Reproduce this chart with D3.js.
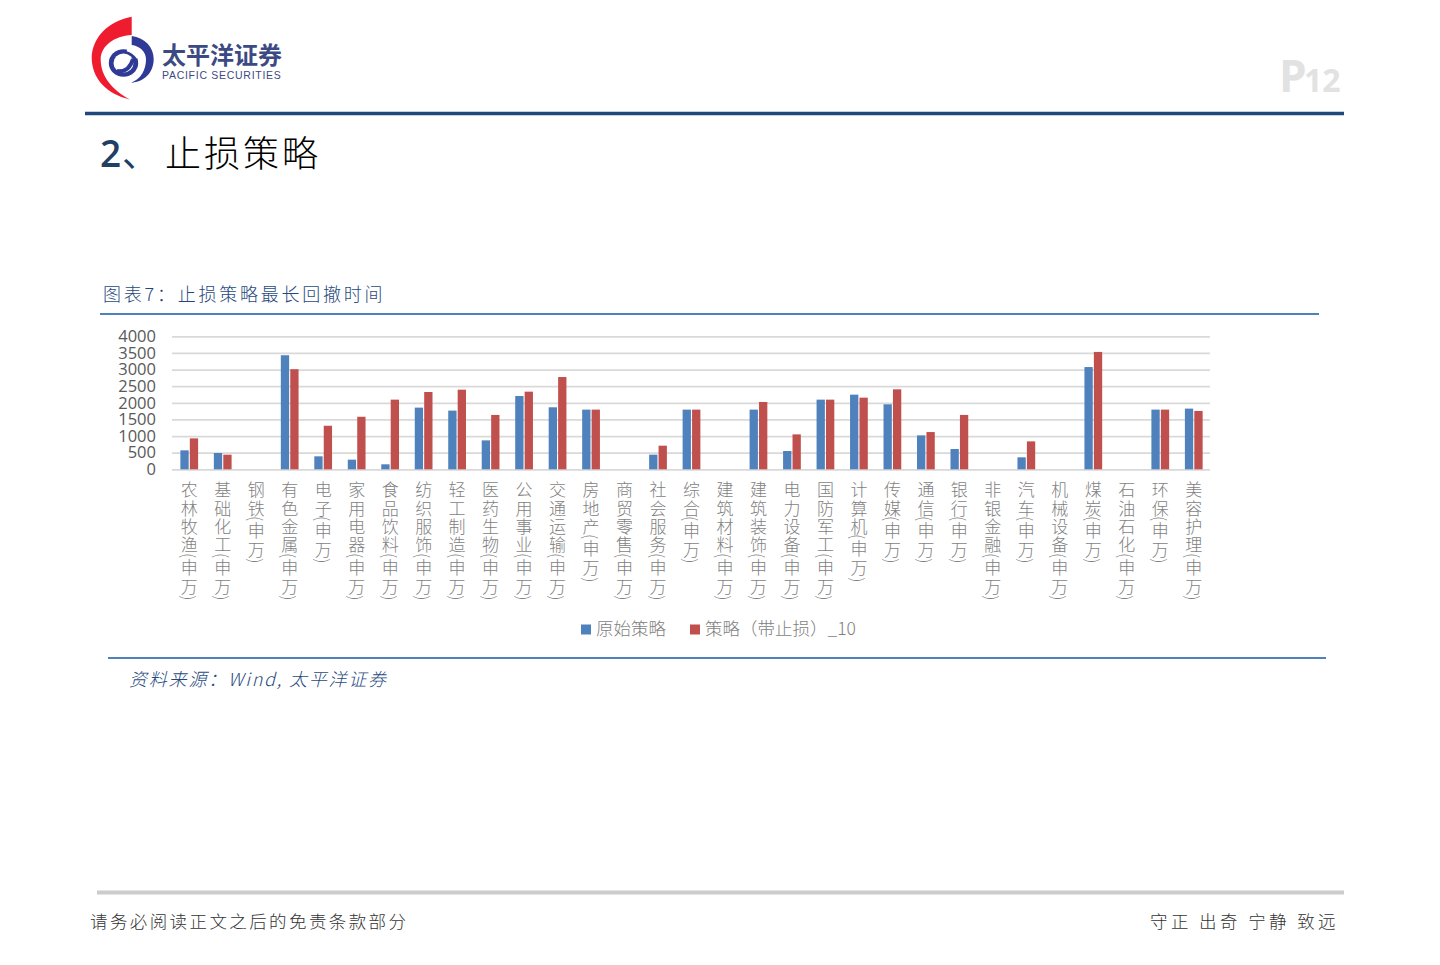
<!DOCTYPE html>
<html>
<head>
<meta charset="utf-8">
<script src="https://cdnjs.cloudflare.com/ajax/libs/d3/7.8.5/d3.min.js"></script>
<style>
html, body { margin: 0; padding: 0; background: #fff; }
svg { display: block; }
text { font-family: "Noto Sans CJK SC", sans-serif; }
</style>
</head>
<body>
<div id="d3content"></div>
<script>
var categories = ["农林牧渔(申万)", "基础化工(申万)", "钢铁(申万)", "有色金属(申万)", "电子(申万)", "家用电器(申万)",
  "食品饮料(申万)", "纺织服饰(申万)", "轻工制造(申万)", "医药生物(申万)", "公用事业(申万)", "交通运输(申万)",
  "房地产(申万)", "商贸零售(申万)", "社会服务(申万)", "综合(申万)", "建筑材料(申万)", "建筑装饰(申万)",
  "电力设备(申万)", "国防军工(申万)", "计算机(申万)", "传媒(申万)", "通信(申万)", "银行(申万)",
  "非银金融(申万)", "汽车(申万)", "机械设备(申万)", "煤炭(申万)", "石油石化(申万)", "环保(申万)", "美容护理(申万)"];
var original = [570, 490, null, 3430, 390, 290, 150, 1855, 1765, 870, 2205, 1865, 1795, null, 440, 1795, null, 1795,
  550, 2095, 2245, 1955, 1020, 610, null, 360, null, 3075, null, 1795, 1825];
var stopLoss = [930, 440, null, 3010, 1310, 1580, 2095, 2325, 2395, 1635, 2335, 2775, 1795, null, 710, 1795, null, 2025,
  1050, 2095, 2155, 2405, 1120, 1635, null, 840, null, 3530, null, 1795, 1755];
var seriesNames = ["原始策略", "策略（带止损）_10"];
var seriesColors = ["#4f81bd", "#c0504d"];
var yTicks = [0, 500, 1000, 1500, 2000, 2500, 3000, 3500, 4000];

var svg = d3.select("#d3content").append("svg")
    .attr("width", 1440)
    .attr("height", 965)
    .attr("viewBox", "0 0 1440 965");

// page furniture
function rule(x1, x2, y, color, w) {
  svg.append("line").attr("x1", x1).attr("x2", x2).attr("y1", y).attr("y2", y)
      .style("stroke", color).attr("stroke-width", w);
}
function label(x, y, str, size, color, spacing) {
  return svg.append("text").attr("x", x).attr("y", y).text(str)
      .style("font-size", size + "px").style("fill", color)
      .style("letter-spacing", (spacing || 0) + "px");
}

rule(85, 1344, 113.5, "#1f497d", 3.5);
rule(100, 1319, 314, "#4f81bd", 2);
rule(108, 1326, 658, "#4f81bd", 2);
rule(97, 1344, 892.5, "#cccccc", 4);

// logo
var logo = svg.append("g");
logo.append("path").attr("fill", "#ee1c2e")
    .attr("d", "M131.7,16.7 C108,21 92,38 91.7,58 C92,78 106,94 130,99.5 C112,90 100.5,76 100.7,59 C101,46 114,36 131.7,35 Z");
logo.append("path").attr("fill", "#2f3a96")
    .attr("d", "M131.7,36 C145,38 153.7,47 153.7,59 C153.7,73 144,82 131,82.7 C141,79 146,70 146,59 C146,52 140,46 131.7,45 Z");
logo.append("ellipse").attr("cx", 123.5).attr("cy", 63).attr("rx", 14.7).attr("ry", 13.7).attr("fill", "#2f3a96");
logo.append("ellipse").attr("cx", 123.5).attr("cy", 63).attr("rx", 10).attr("ry", 9.5).attr("fill", "#fff");
logo.append("path").attr("fill", "none").attr("stroke", "#2f3a96").attr("stroke-width", 4)
    .attr("d", "M117,71 C124,72 130,69 133,59");
logo.append("path").attr("fill", "none").attr("stroke", "#fff").attr("stroke-width", 2.5)
    .attr("d", "M127,50 C132,51 135,54 138,58");
logo.append("text").attr("x", 162).attr("y", 64).text("太平洋证券")
    .style("font-size", "24px").style("font-weight", 700).style("fill", "#3c4a83");
logo.append("text").attr("x", 162).attr("y", 78.5).text("PACIFIC SECURITIES")
    .style("font-family", "'Liberation Sans'").style("font-size", "10.5px").style("letter-spacing", "0.72px").style("fill", "#3c4a83");

label(1279, 92, "P", 44, "#e2e2e2").style("font-family", "'Open Sans'").style("font-weight", 700);
label(1304, 92, "12", 32, "#e2e2e2").style("font-family", "'Open Sans'").style("font-weight", 700);

label(100, 167, "2", 37, "#1f3f63").style("font-family", "'Open Sans'").style("font-weight", 600);
label(122, 167, "、", 36, "#1f3f63");
label(165, 167, "止损策略", 36, "#000", 3).style("font-weight", 300);

label(103, 301, "图表7：止损策略最长回撤时间", 18, "#1f497d", 2.75).style("font-weight", 300);
label(129, 686, "资料来源：Wind, 太平洋证券", 18, "#1f497d", 1.8).style("font-style", "italic").style("font-weight", 300);
label(90, 928, "请务必阅读正文之后的免责条款部分", 17.5, "#333", 2.4).style("font-weight", 300);
label(1150, 928, "守正 出奇 宁静 致远", 17.5, "#333", 3.4).style("font-weight", 300);

// chart
var plot = { left: 172, right: 1210, top: 336.3, bottom: 469.3 };

var x = d3.scaleBand().domain(categories).range([plot.left + 0.5, plot.right + 0.5]).paddingInner(0.47).paddingOuter(0.235);
var xInner = d3.scaleBand().domain(seriesNames).range([0, x.bandwidth()]).paddingInner(0.12);
var y = d3.scaleLinear().domain([0, 4000]).range([plot.bottom, plot.top]);

var yAxis = svg.append("g")
    .attr("transform", "translate(" + plot.left + ",0)")
    .call(d3.axisLeft(y).tickValues(yTicks).tickSize(-(plot.right - plot.left)).tickPadding(16).tickFormat(d3.format("d")));
yAxis.select(".domain").remove();
yAxis.selectAll("line").style("stroke", "#d9d9d9").attr("stroke-width", 1.8);
yAxis.selectAll("text")
    .style("font-family", "'Open Sans'").style("font-size", "16.5px").style("fill", "#595959");

var xAxis = svg.append("g")
    .attr("transform", "translate(0," + plot.bottom + ")")
    .call(d3.axisBottom(x).tickSize(0));
xAxis.select(".domain").remove();
xAxis.selectAll("text")
    .attr("y", 12).attr("dy", null)
    .attr("x", 0)
    .style("writing-mode", "vertical-rl")
    .style("text-anchor", "start")
    .style("font-size", "17px")
    .style("font-weight", 300)
    .style("letter-spacing", "1.4px")
    .style("fill", "#7f7f7f")
    .each(function(d) {
      // the brackets sit tighter against the characters than the default advance
      var t = d3.select(this).text(null);
      var parts = d.match(/^(.*)\((.*)\)$/);
      t.append("tspan").text(parts[1]);
      t.append("tspan").attr("dy", -2.5).style("letter-spacing", "0.6px").text("(");
      t.append("tspan").style("letter-spacing", "2.2px").text(parts[2]);
      t.append("tspan").attr("dy", -1.5).text(")");
    });

[original, stopLoss].forEach(function(values, s) {
  svg.append("g").selectAll("rect")
      .data(categories.map(function(c, i) { return { cat: c, v: values[i] }; })
        .filter(function(d) { return d.v !== null; }))
      .enter().append("rect")
      .attr("x", function(d) { return x(d.cat) + xInner(seriesNames[s]); })
      .attr("y", function(d) { return y(d.v); })
      .attr("width", xInner.bandwidth())
      .attr("height", function(d) { return y(0) - y(d.v); })
      .attr("fill", seriesColors[s]);
});

// legend
var legendX = [581, 690];
seriesNames.forEach(function(name, s) {
  svg.append("rect").attr("x", legendX[s]).attr("y", 624.5).attr("width", 10).attr("height", 10).attr("fill", seriesColors[s]);
  label(legendX[s] + 15, 635, name, 17.5, "#7f7f7f").style("font-weight", 300);
});
</script>
</body>
</html>
